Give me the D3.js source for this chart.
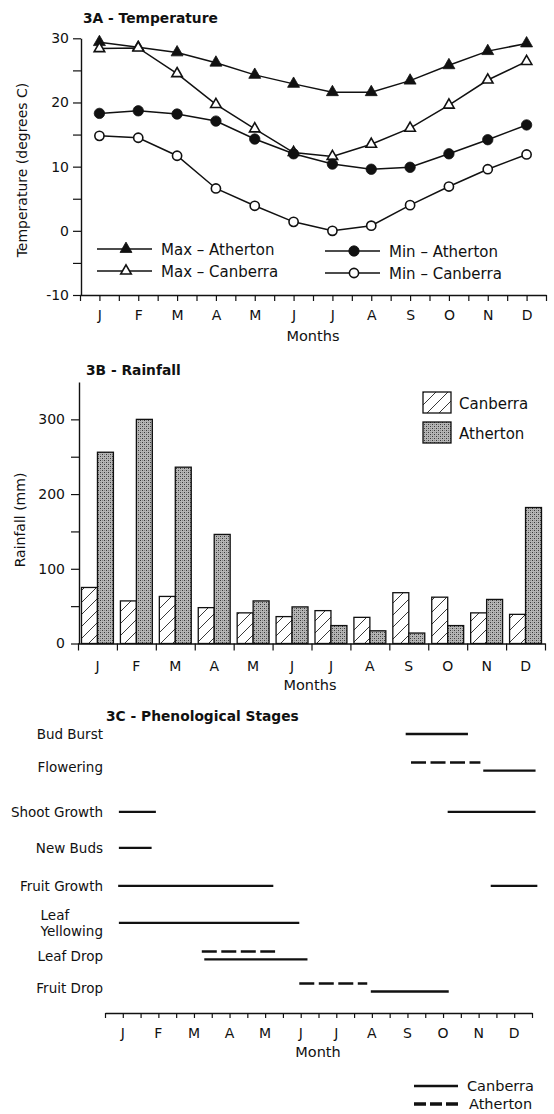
<!DOCTYPE html>
<html><head><meta charset="utf-8">
<script src="https://cdn.jsdelivr.net/npm/d3@7"></script>
<style>
body{margin:0;background:#fff}
svg{display:block;font-family:"DejaVu Sans",sans-serif;fill:#111}
</style></head><body>
<svg id="fig" width="554" height="1114"></svg>
<script>
// ---- data ----
const months = ["J","F","M","A","M","J","J","A","S","O","N","D"];

// Mean monthly temperatures (degrees C)
const maxAtherton = [29.4, 28.6, 27.8, 26.2, 24.3, 22.9, 21.6, 21.6, 23.4, 25.8, 28.0, 29.2];
const maxCanberra = [28.4, 28.5, 24.5, 19.7, 15.9, 12.2, 11.6, 13.5, 16.0, 19.6, 23.5, 26.4];
const minAtherton = [18.3, 18.7, 18.2, 17.1, 14.3, 12.0, 10.4, 9.6, 9.9, 12.0, 14.2, 16.5];
const minCanberra = [14.8, 14.5, 11.7, 6.6, 3.9, 1.4, 0.0, 0.8, 4.0, 6.9, 9.6, 11.9];
const tempTicks = [-10, 0, 10, 20, 30];

// Mean monthly rainfall (mm)
const rainCanberra = [75, 57, 63, 48, 41, 36, 44, 35, 68, 62, 41, 39];
const rainAtherton = [256, 300, 236, 146, 57, 49, 24, 17, 14, 24, 59, 182];
const rainTicks = [0, 100, 200, 300];

// Phenological stages; periods in months from 1 January
const stages = ["Bud Burst","Flowering","Shoot Growth","New Buds","Fruit Growth","Leaf Yellowing","Leaf Drop","Fruit Drop"];
const canberraPeriods = [
  ["Bud Burst", 8.45, 10.2],
  ["Flowering", 10.63, 12.1],
  ["Shoot Growth", 0.39, 1.43],
  ["Shoot Growth", 9.63, 12.1],
  ["New Buds", 0.39, 1.31],
  ["Fruit Growth", 0.37, 4.73],
  ["Fruit Growth", 10.84, 12.15],
  ["Leaf Yellowing", 0.39, 5.46],
  ["Leaf Drop", 2.79, 5.69],
  ["Fruit Drop", 7.47, 9.66]
];
const athertonPeriods = [
  ["Flowering", 8.6, 10.55],
  ["Leaf Drop", 2.72, 4.78],
  ["Fruit Drop", 5.46, 7.37]
];

// ---- drawing ----
const svg = d3.select("#fig");
svg.append("rect").attr("width", 554).attr("height", 1114).attr("fill", "#fff");

const defs = svg.append("defs");
const hatch = defs.append("pattern").attr("id", "hatch").attr("patternUnits", "userSpaceOnUse")
  .attr("width", 12).attr("height", 12);
hatch.append("rect").attr("width", 12).attr("height", 12).attr("fill", "#fff");
hatch.append("path").attr("d", "M-3,3 L3,-3 M0,12 L12,0 M9,15 L15,9").attr("stroke", "#222").attr("stroke-width", 0.9);

const stip = defs.append("pattern").attr("id", "stipple").attr("patternUnits", "userSpaceOnUse")
  .attr("width", 4).attr("height", 4);
stip.append("rect").attr("width", 4).attr("height", 4).attr("fill", "#b5b5b5");
[[0,0,"#383838"],[2,2,"#383838"],[2,0,"#858585"],[0,2,"#858585"]].forEach(([px,py,c]) =>
  stip.append("rect").attr("x", px).attr("y", py).attr("width", 1).attr("height", 1).attr("fill", c));

function styleAxis(g) {
  g.selectAll("path.domain").attr("stroke", "#111").attr("stroke-width", 1.4);
  g.selectAll(".tick line").attr("stroke", "#111").attr("stroke-width", 1.2);
  g.selectAll("text").attr("font-family", "DejaVu Sans, sans-serif").attr("fill", "#111");
}

function title(txt, x, y) {
  svg.append("text").attr("x", x).attr("y", y).attr("font-weight", "bold")
    .attr("font-size", 13.8).text(txt);
}

// ===== 3A Temperature =====
title("3A - Temperature", 83, 23);
const xT = d3.scaleLinear().domain([-0.5, 11.5]).range([80, 546]);
const yT = d3.scaleLinear().domain([-10, 30]).range([295, 38.3]);

svg.append("g").attr("transform", "translate(81,0)")
  .call(d3.axisLeft(yT).tickValues(d3.range(-10, 31, 5)).tickSize(8).tickSizeOuter(0).tickPadding(4)
    .tickFormat(d => tempTicks.includes(d) ? d : ""))
  .call(g => g.selectAll("text").attr("font-size", 14))
  .call(styleAxis);

svg.append("g").attr("transform", "translate(0,295)")
  .call(d3.axisBottom(xT).tickValues(d3.range(-0.5, 11.51, 0.5)).tickSize(6).tickSizeOuter(0).tickPadding(9)
    .tickFormat(d => Number.isInteger(d) ? months[d] : ""))
  .call(g => g.selectAll("text").attr("font-size", 14))
  .call(styleAxis);

svg.append("text").attr("x", 313).attr("y", 341).attr("text-anchor", "middle")
  .attr("font-size", 14.5).text("Months");
svg.append("text").attr("transform", "translate(27,170) rotate(-90)").attr("text-anchor", "middle")
  .attr("font-size", 14).text("Temperature (degrees C)");

const tempSeries = [
  {name: "Max - Atherton", values: maxAtherton, marker: "tri", filled: true},
  {name: "Max - Canberra", values: maxCanberra, marker: "tri", filled: false},
  {name: "Min - Atherton", values: minAtherton, marker: "circ", filled: true},
  {name: "Min - Canberra", values: minCanberra, marker: "circ", filled: false}
];
const line = d3.line().x((d, i) => xT(i)).y(d => yT(d));

function drawMarker(g, s, x, y) {
  if (s.marker === "tri") {
    g.append("path").attr("transform", `translate(${x},${y})`)
      .attr("d", d3.symbol(d3.symbolTriangle, s.filled ? 62 : 48)())
      .attr("fill", s.filled ? "#111" : "#fff").attr("stroke", "#111").attr("stroke-width", s.filled ? 0.8 : 1.6);
  } else {
    g.append("circle").attr("cx", x).attr("cy", y).attr("r", s.filled ? 5.2 : 4.6)
      .attr("fill", s.filled ? "#111" : "#fff").attr("stroke", "#111").attr("stroke-width", s.filled ? 0.8 : 1.6);
  }
}

tempSeries.forEach(s => {
  const g = svg.append("g");
  g.append("path").attr("d", line(s.values)).attr("fill", "none").attr("stroke", "#111").attr("stroke-width", 1.5);
  s.values.forEach((v, i) => drawMarker(g, s, xT(i), yT(v)));
});

// legend
const legPos = [[97, 249], [97, 271], [325, 251], [325, 273]];
tempSeries.forEach((s, i) => {
  const [lx, ly] = legPos[i];
  const g = svg.append("g");
  g.append("line").attr("x1", lx).attr("x2", lx + 55).attr("y1", ly).attr("y2", ly)
    .attr("stroke", "#111").attr("stroke-width", 1.5);
  drawMarker(g, s, lx + 29, ly);
  g.append("text").attr("x", lx + 64).attr("y", ly + 5.5).attr("font-size", 15)
    .text(s.name.replace(" - ", " \u2013 "));
});

// ===== 3B Rainfall =====
title("3B - Rainfall", 86, 375);
const xR = d3.scaleLinear().domain([0, 12]).range([78, 545]);
const band = d3.scaleBand().domain(d3.range(12)).range([78, 545]);
const yR = d3.scaleLinear().domain([0, 350]).range([643.5, 382]);

const barW = (band.bandwidth() - 7) / 2;
const rainG = svg.append("g");
months.forEach((m, i) => {
  const x0 = band(i) + 3.5;
  rainG.append("rect").attr("x", x0).attr("y", yR(rainCanberra[i]))
    .attr("width", barW).attr("height", yR(0) - yR(rainCanberra[i]))
    .attr("fill", "url(#hatch)").attr("stroke", "#111").attr("stroke-width", 1.3);
  rainG.append("rect").attr("x", x0 + barW).attr("y", yR(rainAtherton[i]))
    .attr("width", barW).attr("height", yR(0) - yR(rainAtherton[i]))
    .attr("fill", "url(#stipple)").attr("stroke", "#111").attr("stroke-width", 1.3);
});

svg.append("g").attr("transform", "translate(79,0)")
  .call(d3.axisLeft(yR).tickValues(d3.range(0, 301, 50)).tickSize(8).tickSizeOuter(0).tickPadding(6)
    .tickFormat(d => rainTicks.includes(d) ? d : ""))
  .call(g => g.selectAll("text").attr("font-size", 14))
  .call(styleAxis);

svg.append("g").attr("transform", "translate(0,643.5)")
  .call(d3.axisBottom(xR).tickValues(d3.range(0, 13)).tickSize(7).tickSizeOuter(0).tickFormat(""))
  .call(styleAxis);
months.forEach((m, i) => {
  svg.append("text").attr("x", band(i) + band.bandwidth() / 2).attr("y", 670.5)
    .attr("text-anchor", "middle").attr("font-size", 14).text(m);
});
svg.append("text").attr("x", 310).attr("y", 690).attr("text-anchor", "middle")
  .attr("font-size", 14.5).text("Months");
svg.append("text").attr("transform", "translate(25,520) rotate(-90)").attr("text-anchor", "middle")
  .attr("font-size", 14).text("Rainfall (mm)");

// legend
[["Canberra", "url(#hatch)", 392], ["Atherton", "url(#stipple)", 422]].forEach(([name, fill, ly]) => {
  svg.append("rect").attr("x", 423).attr("y", ly).attr("width", 28).attr("height", 21)
    .attr("fill", fill).attr("stroke", "#111").attr("stroke-width", 1.3);
  svg.append("text").attr("x", 459).attr("y", ly + 16.5).attr("font-size", 15).text(name);
});

// ===== 3C Phenological Stages =====
title("3C - Phenological Stages", 106, 721);
const xC = d3.scaleLinear().domain([0, 12]).range([105, 532]);

// vertical spacing between stage rows (relative units)
const rowGapWeights = [1, 1.36, 1.09, 1.15, 1.12, 1, 0.97];
const rowSlot = [0];
rowGapWeights.forEach((w, i) => rowSlot.push(rowSlot[i] + w));
const slotScale = d3.scaleLinear().domain([0, rowSlot[rowSlot.length - 1]]).range([734, 988]);
const rowY = name => slotScale(rowSlot[stages.indexOf(name)]);

const labelRight = 103;
stages.forEach(name => {
  const cy = rowY(name);
  if (name === "Leaf Yellowing") {
    const t2 = svg.append("text").attr("x", labelRight).attr("y", cy + 13.5).attr("text-anchor", "end")
      .attr("font-size", 13.5).text("Yellowing");
    const w = t2.node().getComputedTextLength();
    svg.append("text").attr("x", labelRight - w).attr("y", cy - 2.5).attr("font-size", 13.5).text("Leaf");
  } else {
    svg.append("text").attr("x", labelRight).attr("y", cy + 5).attr("text-anchor", "end")
      .attr("font-size", 13.5).text(name);
  }
});

const athertonStages = new Set(athertonPeriods.map(p => p[0]));
canberraPeriods.forEach(([name, a, b]) => {
  const y = rowY(name) + (athertonStages.has(name) ? 3.5 : 0);
  svg.append("line").attr("x1", xC(a)).attr("x2", xC(b)).attr("y1", y).attr("y2", y)
    .attr("stroke", "#111").attr("stroke-width", 2.3);
});
athertonPeriods.forEach(([name, a, b]) => {
  const y = rowY(name) - 4.5;
  svg.append("line").attr("x1", xC(a)).attr("x2", xC(b)).attr("y1", y).attr("y2", y)
    .attr("stroke", "#111").attr("stroke-width", 2.5).attr("stroke-dasharray", "15,4.5");
});

svg.append("g").attr("transform", "translate(0,1013)")
  .call(d3.axisBottom(xC).tickValues(d3.range(0, 12.01, 0.5)).tickSize(5).tickSizeOuter(0).tickFormat(""))
  .call(styleAxis);
months.forEach((m, i) => {
  svg.append("text").attr("x", xC(i + 0.5)).attr("y", 1038)
    .attr("text-anchor", "middle").attr("font-size", 14).text(m);
});
svg.append("text").attr("x", 318).attr("y", 1057).attr("text-anchor", "middle")
  .attr("font-size", 14.5).text("Month");

// legend
svg.append("line").attr("x1", 414).attr("x2", 458).attr("y1", 1086).attr("y2", 1086)
  .attr("stroke", "#111").attr("stroke-width", 2.3);
svg.append("text").attr("x", 467).attr("y", 1091).attr("font-size", 14.5).text("Canberra");
svg.append("line").attr("x1", 414).attr("x2", 458).attr("y1", 1104).attr("y2", 1104)
  .attr("stroke", "#111").attr("stroke-width", 3.5).attr("stroke-dasharray", "12,4");
svg.append("text").attr("x", 469).attr("y", 1109).attr("font-size", 14.5).text("Atherton");
</script>
</body></html>
